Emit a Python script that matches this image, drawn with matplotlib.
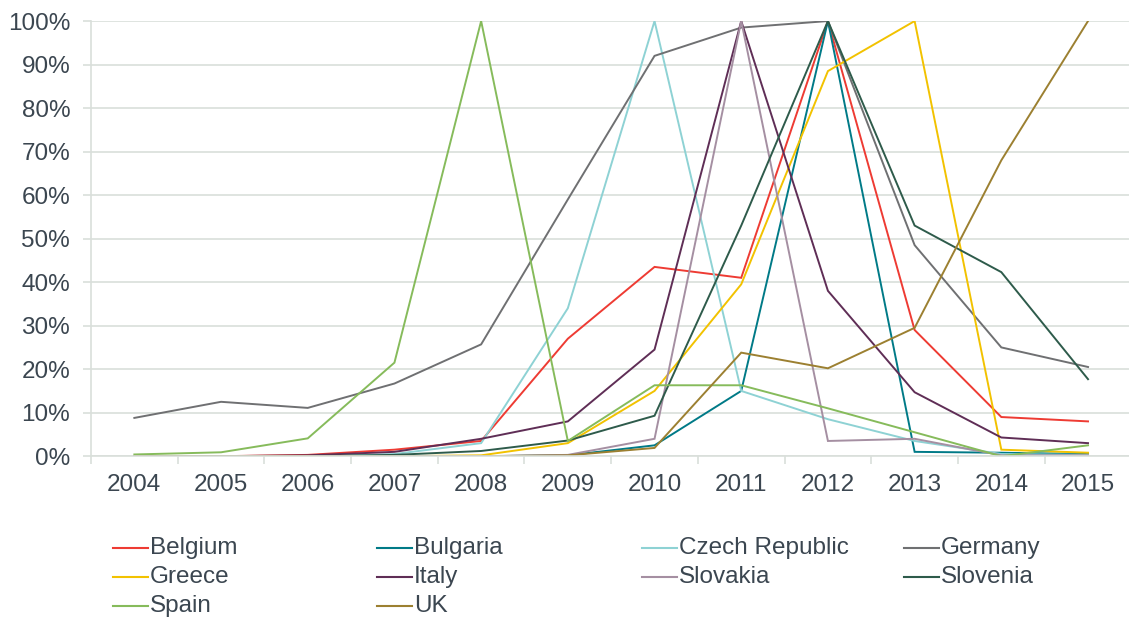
import matplotlib.pyplot as plt
from matplotlib.lines import Line2D
from matplotlib.ticker import FuncFormatter

plt.rcParams['font.family'] = ['Liberation Sans', 'DejaVu Sans']

years = ['2004', '2005', '2006', '2007', '2008', '2009',
         '2010', '2011', '2012', '2013', '2014', '2015']

# share of peak value, in percent
belgium = [0, 0, 0.3, 1.5, 3.5, 27, 43.5, 41, 100, 29, 9, 8]
bulgaria = [0, 0, 0, 0, 0, 0.2, 2.5, 15, 100, 1, 0.8, 0.5]
czech = [0, 0, 0, 0.5, 3, 34, 100, 15, 8.5, 3.5, 0.5, 0.3]
germany = [8.8, 12.5, 11.1, 16.7, 25.7, 59, 92, 98.5, 100, 48.5, 25, 20.5]
greece = [0, 0, 0, 0, 0.2, 3, 15, 39.5, 88.5, 100, 1.5, 0.8]
italy = [0, 0, 0.2, 1, 4, 8, 24.5, 100, 38, 14.7, 4.3, 3]
slovakia = [0, 0, 0, 0, 0, 0.3, 4, 100, 3.5, 4, 0.2, 0.2]
slovenia = [0, 0, 0, 0.3, 1.2, 3.6, 9.3, 53, 100, 53, 42.3, 17.7]
spain = [0.4, 0.9, 4.1, 21.5, 100, 3.5, 16.3, 16.3, 11, 5.5, 0, 2.5]
uk = [0, 0, 0, 0, 0, 0.2, 1.9, 23.8, 20.2, 29.5, 68, 100]

countries = ['Belgium', 'Bulgaria', 'Czech Republic', 'Germany', 'Greece',
             'Italy', 'Slovakia', 'Slovenia', 'Spain', 'UK']
values = [belgium, bulgaria, czech, germany, greece,
          italy, slovakia, slovenia, spain, uk]
colors = ['#EE3B33', '#007A87', '#8ED2D4', '#6F7072', '#F2C200',
          '#5F2E56', '#A58FA2', '#2E5B4B', '#86BB5B', '#9C8031']

text_col = '#3B4650'
grid_col = '#D9DFDA'
fs = 17.5

fig = plt.figure(figsize=(11.29, 6.19), dpi=100)
ax = fig.add_axes([0.0806, 0.263, 0.9215, 0.703])

x = list(range(len(years)))
for name, vals, c in zip(countries, values, colors):
    ax.plot(x, [v / 100 for v in vals], color=c, lw=1.4, solid_joinstyle='miter')

ax.set_xlim(-0.5, len(years) - 0.5)
ax.set_ylim(0, 1)
ax.set_yticks([i / 10 for i in range(11)])
ax.yaxis.set_major_formatter(FuncFormatter(lambda v, p: f'{v * 100:.0f}%'))
ax.set_xticks(x)
ax.set_xticklabels(years)
ax.set_xticks([i - 0.5 for i in range(len(years) + 1)], minor=True)

ax.grid(axis='y', color=grid_col, lw=1.2)
ax.set_axisbelow(True)
for s in ['top', 'right']:
    ax.spines[s].set_visible(False)
for s in ['left', 'bottom']:
    ax.spines[s].set_color(grid_col)
    ax.spines[s].set_linewidth(1.2)

ax.tick_params(axis='y', length=6, width=1.2, color=grid_col, pad=9,
               labelsize=fs, labelcolor=text_col)
ax.tick_params(axis='x', which='major', length=0, pad=13,
               labelsize=fs, labelcolor=text_col)
ax.tick_params(axis='x', which='minor', length=6, width=1.2, color=grid_col)

# legend laid out on a fixed grid, row by row
col_x = [113, 377, 642, 904]
row_y = [548, 577, 606]
W, H = 1129, 619
for i, (name, c) in enumerate(zip(countries, colors)):
    r, k = divmod(i, 4)
    xl = col_x[k]
    yl = row_y[r]
    fig.add_artist(Line2D([xl / W, (xl + 35) / W], [1 - yl / H, 1 - yl / H],
                          color=c, lw=1.5, transform=fig.transFigure))
    fig.text((xl + 37) / W, 1 - yl / H, name, fontsize=fs, color=text_col,
             va='center', ha='left')

fig.savefig('out.png', dpi=100)
